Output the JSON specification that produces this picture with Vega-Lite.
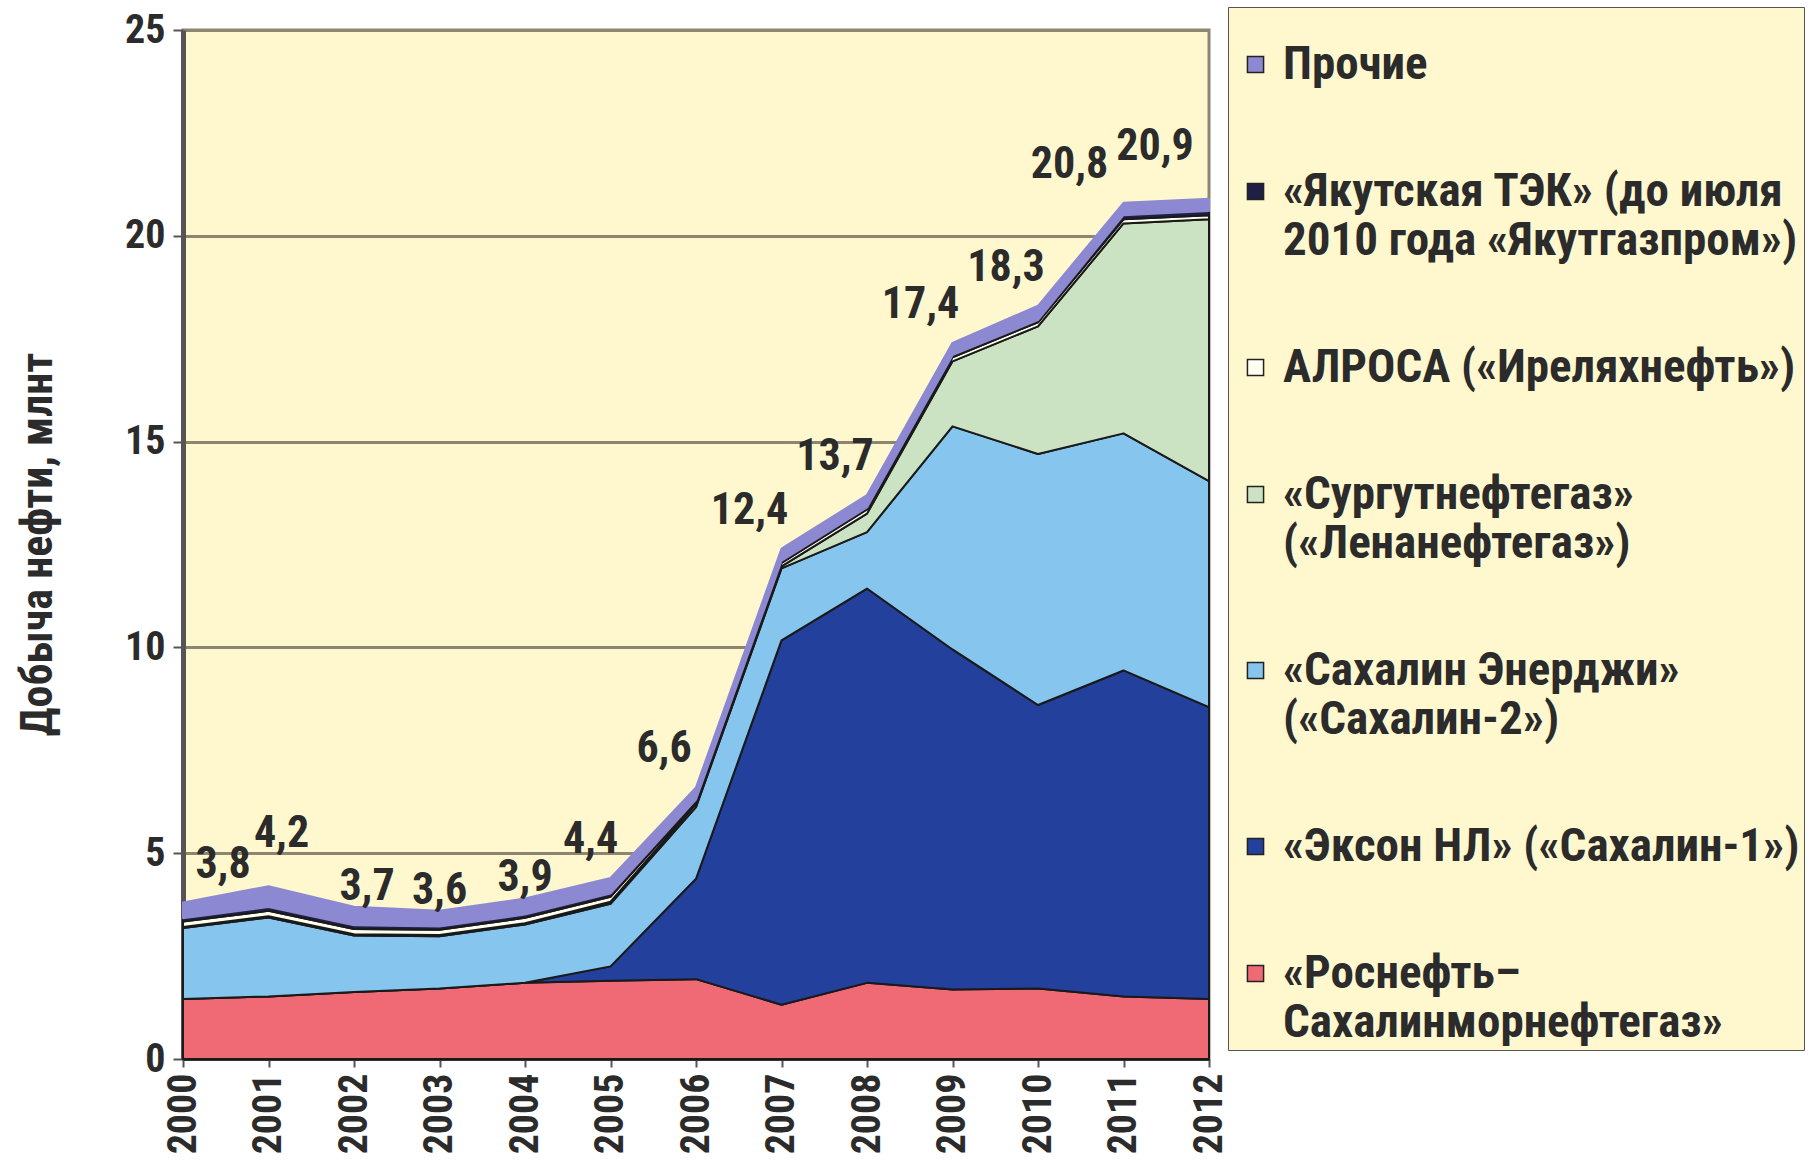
{
  "$schema": "https://vega.github.io/schema/vega-lite/v6.json",
  "width": 1026,
  "height": 1029,
  "autosize": {"type": "none"},
  "padding": {"left": 183, "top": 30, "right": 601, "bottom": 110},
  "background": "white",
  "data": {
    "values": [
      {"year": 2000, "company": "«Роснефть–Сахалинморнефтегаз»", "value": 1.46},
      {"year": 2000, "company": "«Эксон НЛ» («Сахалин-1»)", "value": 0},
      {"year": 2000, "company": "«Сахалин Энерджи» («Сахалин-2»)", "value": 1.72},
      {"year": 2000, "company": "«Сургутнефтегаз» («Ленанефтегаз»)", "value": 0.03},
      {"year": 2000, "company": "АЛРОСА («Иреляхнефть»)", "value": 0.13},
      {"year": 2000, "company": "«Якутская ТЭК» (до июля 2010 года «Якутгазпром»)", "value": 0.08},
      {"year": 2000, "company": "Прочие", "value": 0.38},

      {"year": 2001, "company": "«Роснефть–Сахалинморнефтегаз»", "value": 1.52},
      {"year": 2001, "company": "«Эксон НЛ» («Сахалин-1»)", "value": 0},
      {"year": 2001, "company": "«Сахалин Энерджи» («Сахалин-2»)", "value": 1.92},
      {"year": 2001, "company": "«Сургутнефтегаз» («Ленанефтегаз»)", "value": 0.03},
      {"year": 2001, "company": "АЛРОСА («Иреляхнефть»)", "value": 0.13},
      {"year": 2001, "company": "«Якутская ТЭК» (до июля 2010 года «Якутгазпром»)", "value": 0.09},
      {"year": 2001, "company": "Прочие", "value": 0.51},

      {"year": 2002, "company": "«Роснефть–Сахалинморнефтегаз»", "value": 1.63},
      {"year": 2002, "company": "«Эксон НЛ» («Сахалин-1»)", "value": 0},
      {"year": 2002, "company": "«Сахалин Энерджи» («Сахалин-2»)", "value": 1.37},
      {"year": 2002, "company": "«Сургутнефтегаз» («Ленанефтегаз»)", "value": 0.03},
      {"year": 2002, "company": "АЛРОСА («Иреляхнефть»)", "value": 0.13},
      {"year": 2002, "company": "«Якутская ТЭК» (до июля 2010 года «Якутгазпром»)", "value": 0.09},
      {"year": 2002, "company": "Прочие", "value": 0.45},

      {"year": 2003, "company": "«Роснефть–Сахалинморнефтегаз»", "value": 1.71},
      {"year": 2003, "company": "«Эксон НЛ» («Сахалин-1»)", "value": 0},
      {"year": 2003, "company": "«Сахалин Энерджи» («Сахалин-2»)", "value": 1.27},
      {"year": 2003, "company": "«Сургутнефтегаз» («Ленанефтегаз»)", "value": 0.03},
      {"year": 2003, "company": "АЛРОСА («Иреляхнефть»)", "value": 0.13},
      {"year": 2003, "company": "«Якутская ТЭК» (до июля 2010 года «Якутгазпром»)", "value": 0.08},
      {"year": 2003, "company": "Прочие", "value": 0.38},

      {"year": 2004, "company": "«Роснефть–Сахалинморнефтегаз»", "value": 1.85},
      {"year": 2004, "company": "«Эксон НЛ» («Сахалин-1»)", "value": 0},
      {"year": 2004, "company": "«Сахалин Энерджи» («Сахалин-2»)", "value": 1.42},
      {"year": 2004, "company": "«Сургутнефтегаз» («Ленанефтегаз»)", "value": 0.03},
      {"year": 2004, "company": "АЛРОСА («Иреляхнефть»)", "value": 0.13},
      {"year": 2004, "company": "«Якутская ТЭК» (до июля 2010 года «Якутгазпром»)", "value": 0.08},
      {"year": 2004, "company": "Прочие", "value": 0.39},

      {"year": 2005, "company": "«Роснефть–Сахалинморнефтегаз»", "value": 1.90},
      {"year": 2005, "company": "«Эксон НЛ» («Сахалин-1»)", "value": 0.35},
      {"year": 2005, "company": "«Сахалин Энерджи» («Сахалин-2»)", "value": 1.52},
      {"year": 2005, "company": "«Сургутнефтегаз» («Ленанефтегаз»)", "value": 0.05},
      {"year": 2005, "company": "АЛРОСА («Иреляхнефть»)", "value": 0.12},
      {"year": 2005, "company": "«Якутская ТЭК» (до июля 2010 года «Якутгазпром»)", "value": 0.08},
      {"year": 2005, "company": "Прочие", "value": 0.38},

      {"year": 2006, "company": "«Роснефть–Сахалинморнефтегаз»", "value": 1.94},
      {"year": 2006, "company": "«Эксон НЛ» («Сахалин-1»)", "value": 2.44},
      {"year": 2006, "company": "«Сахалин Энерджи» («Сахалин-2»)", "value": 1.74},
      {"year": 2006, "company": "«Сургутнефтегаз» («Ленанефтегаз»)", "value": 0.08},
      {"year": 2006, "company": "АЛРОСА («Иреляхнефть»)", "value": 0.05},
      {"year": 2006, "company": "«Якутская ТЭК» (до июля 2010 года «Якутгазпром»)", "value": 0.05},
      {"year": 2006, "company": "Прочие", "value": 0.30},

      {"year": 2007, "company": "«Роснефть–Сахалинморнефтегаз»", "value": 1.32},
      {"year": 2007, "company": "«Эксон НЛ» («Сахалин-1»)", "value": 8.85},
      {"year": 2007, "company": "«Сахалин Энерджи» («Сахалин-2»)", "value": 1.75},
      {"year": 2007, "company": "«Сургутнефтегаз» («Ленанефтегаз»)", "value": 0.05},
      {"year": 2007, "company": "АЛРОСА («Иреляхнефть»)", "value": 0.08},
      {"year": 2007, "company": "«Якутская ТЭК» (до июля 2010 года «Якутгазпром»)", "value": 0.05},
      {"year": 2007, "company": "Прочие", "value": 0.30},

      {"year": 2008, "company": "«Роснефть–Сахалинморнефтегаз»", "value": 1.85},
      {"year": 2008, "company": "«Эксон НЛ» («Сахалин-1»)", "value": 9.58},
      {"year": 2008, "company": "«Сахалин Энерджи» («Сахалин-2»)", "value": 1.37},
      {"year": 2008, "company": "«Сургутнефтегаз» («Ленанефтегаз»)", "value": 0.45},
      {"year": 2008, "company": "АЛРОСА («Иреляхнефть»)", "value": 0.10},
      {"year": 2008, "company": "«Якутская ТЭК» (до июля 2010 года «Якутгазпром»)", "value": 0.05},
      {"year": 2008, "company": "Прочие", "value": 0.30},

      {"year": 2009, "company": "«Роснефть–Сахалинморнефтегаз»", "value": 1.69},
      {"year": 2009, "company": "«Эксон НЛ» («Сахалин-1»)", "value": 8.26},
      {"year": 2009, "company": "«Сахалин Энерджи» («Сахалин-2»)", "value": 5.42},
      {"year": 2009, "company": "«Сургутнефтегаз» («Ленанефтегаз»)", "value": 1.58},
      {"year": 2009, "company": "АЛРОСА («Иреляхнефть»)", "value": 0.10},
      {"year": 2009, "company": "«Якутская ТЭК» (до июля 2010 года «Якутгазпром»)", "value": 0.05},
      {"year": 2009, "company": "Прочие", "value": 0.30},

      {"year": 2010, "company": "«Роснефть–Сахалинморнефтегаз»", "value": 1.71},
      {"year": 2010, "company": "«Эксон НЛ» («Сахалин-1»)", "value": 6.89},
      {"year": 2010, "company": "«Сахалин Энерджи» («Сахалин-2»)", "value": 6.10},
      {"year": 2010, "company": "«Сургутнефтегаз» («Ленанефтегаз»)", "value": 3.10},
      {"year": 2010, "company": "АЛРОСА («Иреляхнефть»)", "value": 0.10},
      {"year": 2010, "company": "«Якутская ТЭК» (до июля 2010 года «Якутгазпром»)", "value": 0.05},
      {"year": 2010, "company": "Прочие", "value": 0.35},

      {"year": 2011, "company": "«Роснефть–Сахалинморнефтегаз»", "value": 1.52},
      {"year": 2011, "company": "«Эксон НЛ» («Сахалин-1»)", "value": 7.92},
      {"year": 2011, "company": "«Сахалин Энерджи» («Сахалин-2»)", "value": 5.76},
      {"year": 2011, "company": "«Сургутнефтегаз» («Ленанефтегаз»)", "value": 5.10},
      {"year": 2011, "company": "АЛРОСА («Иреляхнефть»)", "value": 0.10},
      {"year": 2011, "company": "«Якутская ТЭК» (до июля 2010 года «Якутгазпром»)", "value": 0.10},
      {"year": 2011, "company": "Прочие", "value": 0.30},

      {"year": 2012, "company": "«Роснефть–Сахалинморнефтегаз»", "value": 1.46},
      {"year": 2012, "company": "«Эксон НЛ» («Сахалин-1»)", "value": 7.09},
      {"year": 2012, "company": "«Сахалин Энерджи» («Сахалин-2»)", "value": 5.49},
      {"year": 2012, "company": "«Сургутнефтегаз» («Ленанефтегаз»)", "value": 6.36},
      {"year": 2012, "company": "АЛРОСА («Иреляхнефть»)", "value": 0.10},
      {"year": 2012, "company": "«Якутская ТЭК» (до июля 2010 года «Якутгазпром»)", "value": 0.10},
      {"year": 2012, "company": "Прочие", "value": 0.30}
    ]
  },
  "layer": [
    {
      "transform": [
        {"calculate": "indexof(['«Роснефть–Сахалинморнефтегаз»', '«Эксон НЛ» («Сахалин-1»)', '«Сахалин Энерджи» («Сахалин-2»)', '«Сургутнефтегаз» («Ленанефтегаз»)', 'АЛРОСА («Иреляхнефть»)', '«Якутская ТЭК» (до июля 2010 года «Якутгазпром»)', 'Прочие'], datum.company)", "as": "rank"}
      ],
      "mark": {"type": "area", "strokeWidth": 2, "strokeJoin": "round", "opacity": 1},
      "encoding": {
        "x": {
          "field": "year", "type": "quantitative",
          "scale": {"domain": [2000, 2012], "nice": false, "zero": false},
          "axis": {
            "values": [2000, 2001, 2002, 2003, 2004, 2005, 2006, 2007, 2008, 2009, 2010, 2011, 2012],
            "format": "d", "title": null, "grid": false,
            "labelAngle": 270, "labelFontSize": 40, "labelFontWeight": "bold", "labelColor": "#2b2b2b",
            "labelPadding": 6, "domainColor": "#333333", "domainWidth": 3,
            "tickColor": "#555555", "tickSize": 8, "tickWidth": 2
          }
        },
        "y": {
          "field": "value", "type": "quantitative", "stack": "zero",
          "scale": {"domain": [0, 25], "nice": false},
          "axis": {
            "values": [0, 5, 10, 15, 20, 25],
            "title": "Добыча нефти, млнт",
            "grid": true, "gridColor": "#8C8670", "gridWidth": 3,
            "domainColor": "#555555", "domainWidth": 5,
            "tickColor": "#555555", "tickSize": 10, "tickWidth": 2,
            "labelFontSize": 40, "labelFontWeight": "bold", "labelColor": "#2b2b2b", "labelPadding": 8,
            "titleFontSize": 44, "titleFontWeight": "bold", "titleColor": "#2b2b2b",
            "titleAngle": 270, "titleX": -145, "titleY": 514, "titleAlign": "center", "titleBaseline": "middle"
          }
        },
        "color": {
          "field": "company", "type": "nominal",
          "scale": {
            "domain": ["Прочие", "«Якутская ТЭК» (до июля 2010 года «Якутгазпром»)", "АЛРОСА («Иреляхнефть»)", "«Сургутнефтегаз» («Ленанефтегаз»)", "«Сахалин Энерджи» («Сахалин-2»)", "«Эксон НЛ» («Сахалин-1»)", "«Роснефть–Сахалинморнефтегаз»"],
            "range": ["#8C88D2", "#1F1F45", "#FFFFF2", "#CBE3C3", "#86C6EE", "#22409C", "#F06A75"]
          },
          "legend": {
            "orient": "none", "legendX": 1045, "legendY": -23,
            "title": " ", "titleFontSize": 12, "titlePadding": 18,
            "symbolType": "square", "symbolSize": 260,
            "symbolStrokeColor": "#222222", "symbolStrokeWidth": 1.5,
            "labelFontSize": 47, "labelFontWeight": "bold", "labelColor": "#2b2b2b",
            "labelLimit": 700, "rowPadding": 79, "padding": 4, "labelOffset": 4,
            "fillColor": "#FFF8CF", "strokeColor": "#555555",
            "labelExpr": "datum.label === '«Якутская ТЭК» (до июля 2010 года «Якутгазпром»)' ? ['«Якутская ТЭК» (до июля', '2010 года «Якутгазпром»)'] : datum.label === '«Сургутнефтегаз» («Ленанефтегаз»)' ? ['«Сургутнефтегаз»', '(«Ленанефтегаз»)'] : datum.label === '«Сахалин Энерджи» («Сахалин-2»)' ? ['«Сахалин Энерджи»', '(«Сахалин-2»)'] : datum.label === '«Роснефть–Сахалинморнефтегаз»' ? ['«Роснефть–', 'Сахалинморнефтегаз»'] : datum.label"
          }
        },
        "order": {"field": "rank", "type": "quantitative", "sort": "ascending"},
        "stroke": {"condition": {"test": "datum.company === 'Прочие'", "value": "#8C88D2"}, "value": "#1a1a1a"}
      }
    },
    {
      "transform": [
        {"aggregate": [{"op": "sum", "field": "value", "as": "total"}], "groupby": ["year"]},
        {"calculate": "replace(format(datum.total, '.1f'), '.', ',')", "as": "label"}
      ],
      "mark": {
        "type": "text", "fontSize": 44, "fontWeight": "bold", "color": "#2b2b2b",
        "dx": {"expr": "datum.year == 2000 ? 40 : datum.year <= 2002 ? 13 : datum.year <= 2004 ? 0 : datum.year == 2005 ? -20 : datum.year <= 2010 ? -32 : -54"},
        "dy": {"expr": "(datum.year >= 2002 && datum.year <= 2004) ? -20 : (datum.year == 2001 || datum.year == 2012) ? -52 : -38"}
      },
      "encoding": {
        "x": {"field": "year", "type": "quantitative"},
        "y": {"field": "total", "type": "quantitative"},
        "text": {"field": "label"}
      }
    }
  ],
  "config": {
    "font": "Liberation Sans Narrow, Arial Narrow, Roboto Condensed, sans-serif",
    "view": {"fill": "#FFF8CF", "stroke": "#8C8670", "strokeWidth": 3}
  }
}
